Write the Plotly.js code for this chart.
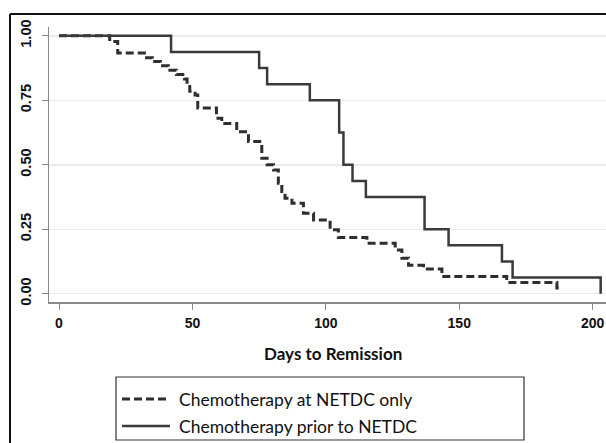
<!DOCTYPE html>
<html>
<head>
<meta charset="utf-8">
<script src="https://cdn.plot.ly/plotly-3.0.1.min.js"></script>
<style>html,body{margin:0;padding:0;background:#fff;}#chart{width:606px;height:443px;}</style>
</head>
<body>
<div id="chart"></div>
<script>
// Kaplan-Meier step data (days, survival after the step)
const seriesNames = ["Chemotherapy at NETDC only", "Chemotherapy prior to NETDC"];
const xAxisTitle = "Days to Remission";

const netdcDays = [0, 19, 22, 32, 35, 38, 41, 44, 47, 48, 49, 51, 52, 59, 61, 66.6, 71, 76, 78, 80.4, 82.2, 83.5, 84.7, 87.3, 91.6, 95.4, 101.6, 104.7, 115.4, 126, 128.5, 131, 136.6, 143.5, 167.8, 186.6, 188];
const netdcSurv = [1.0, 0.978, 0.933, 0.915, 0.900, 0.884, 0.866, 0.850, 0.832, 0.813, 0.785, 0.770, 0.72, 0.68, 0.66, 0.628, 0.59, 0.525, 0.50, 0.48, 0.428, 0.396, 0.37, 0.351, 0.312, 0.286, 0.248, 0.218, 0.196, 0.170, 0.138, 0.110, 0.096, 0.067, 0.044, 0.022, 0.022];

const priorDays = [0, 42, 75, 78, 94, 105, 106.6, 110, 115, 137, 146, 166, 170, 203, 203];
const priorSurv = [1.0, 0.9375, 0.875, 0.8125, 0.75, 0.625, 0.5, 0.4375, 0.375, 0.25, 0.1875, 0.125, 0.0625, 0.0, 0.0];

const xTickVals = [0, 50, 100, 150, 200];
const yTickVals = [0, 0.25, 0.5, 0.75, 1.0];
const yTickText = ["0.00", "0.25", "0.50", "0.75", "1.00"];

const W = 606, H = 443, ML = 49, MR = 0, MT = 27, MB = 141;
const pw = W - ML - MR, ph = H - MT - MB;
const px = v => (v - ML) / pw;
const py = v => (H - MB - v) / ph;

const lineStyles = [
  {shape: "hv", color: "#2e2e2e", width: 3, dash: "8px,4px"},
  {shape: "hv", color: "#3a3a3a", width: 2.5}
];

const traces = [
  {x: netdcDays, y: netdcSurv, name: seriesNames[0], mode: "lines", line: lineStyles[0], showlegend: false},
  {x: priorDays, y: priorSurv, name: seriesNames[1], mode: "lines", line: lineStyles[1], showlegend: false}
];

// hand-placed legend (box, samples, labels) to match the reference layout
const legendRows = [399, 426];
const legendShapes = legendRows.map((ry, i) => ({
  type: "line", xref: "paper", yref: "paper", x0: px(122), x1: px(170), y0: py(ry), y1: py(ry),
  line: {color: lineStyles[i].color, width: lineStyles[i].width, dash: lineStyles[i].dash || "solid"}
}));
const legendLabels = legendRows.map((ry, i) => ({
  text: seriesNames[i], xref: "paper", yref: "paper", x: px(177), y: py(ry), xanchor: "left", yanchor: "middle",
  showarrow: false, font: {family: "Lato, 'Open Sans', sans-serif", size: 17.5, color: "#111"}
}));

const layout = {
  width: W, height: H,
  margin: {l: ML, r: MR, t: MT, b: MB, pad: 0},
  paper_bgcolor: "#fff", plot_bgcolor: "#fff",
  showlegend: false,
  xaxis: {
    range: [-3.75, 205], tickvals: xTickVals, ticktext: xTickVals.map(String),
    showgrid: false, zeroline: false, showline: true, linecolor: "#8a8a8a", linewidth: 1.5,
    ticks: "outside", ticklen: 6, tickcolor: "#8a8a8a", tickwidth: 1,
    ticklabelstandoff: 2,
    tickfont: {family: "'Liberation Sans', Arial, sans-serif", size: 14, color: "#111", weight: "bold"},
    fixedrange: true
  },
  yaxis: {
    range: [-0.032, 1.034], tickvals: yTickVals, ticktext: yTickText, tickangle: -90,
    showgrid: true, gridcolor: "#ebebeb", gridwidth: 1.5, zeroline: false,
    showline: true, linecolor: "#8a8a8a", linewidth: 1.5,
    ticks: "outside", ticklen: 6, tickcolor: "#8a8a8a", tickwidth: 1,
    ticklabelstandoff: 5,
    tickfont: {family: "'Liberation Sans', Arial, sans-serif", size: 14.5, color: "#111", weight: "bold"},
    fixedrange: true
  },
  annotations: [
    {text: "<b>" + xAxisTitle + "</b>", xref: "paper", yref: "paper", x: px(333), y: py(354), xanchor: "center", yanchor: "middle", showarrow: false,
     font: {family: "Lato, 'Open Sans', sans-serif", size: 17, color: "#111"}}
  ].concat(legendLabels),
  shapes: [
    {type: "line", xref: "paper", yref: "paper", x0: px(10), x1: px(606), y0: py(14), y1: py(14), line: {color: "#111", width: 2}},
    {type: "line", xref: "paper", yref: "paper", x0: px(10), x1: px(10), y0: py(14), y1: py(443), line: {color: "#111", width: 2}},
    {type: "rect", xref: "paper", yref: "paper", x0: px(116), x1: px(524), y0: py(440), y1: py(377), line: {color: "#333", width: 1.2}}
  ].concat(legendShapes)
};

Plotly.newPlot("chart", traces, layout, {displayModeBar: false, staticPlot: true});
</script>
</body>
</html>
